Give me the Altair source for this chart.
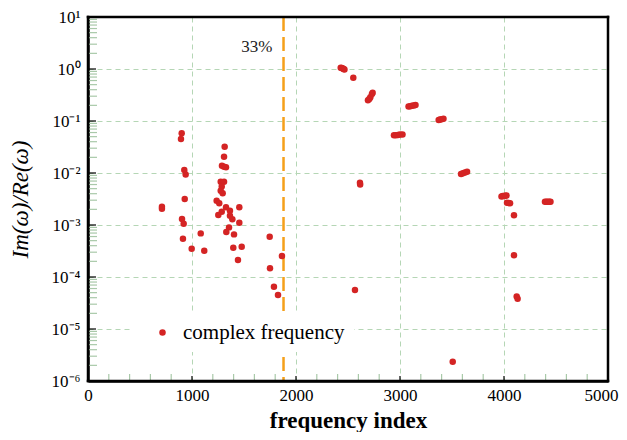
import altair as alt
import pandas as pd

# complex frequency points (frequency index, Im/Re)
freq_index = [
    711, 711, 901, 894, 926, 939, 930, 904, 920, 913, 997, 1084, 1118,
    1314, 1308, 1308, 1288, 1327, 1276, 1308, 1286, 1276, 1295, 1237, 1262,
    1327, 1455, 1286, 1253, 1365, 1365, 1388, 1455, 1356, 1330, 1404, 1397,
    1478, 1442,
    1747, 1865, 1750, 1788, 1827,
    2430, 2440, 2450, 2458, 2466,
    2551,
    2737, 2730, 2715, 2705, 2692,
    3082, 3098, 3115, 3132, 3149,
    3372, 3385, 3400, 3418,
    2942, 2960, 2980, 3000, 3024,
    3587, 3605, 3625, 3645,
    2615, 2617,
    3976, 3988, 4000, 4012, 4024,
    4029, 4045, 4058,
    4096,
    4394, 4408, 4422, 4435, 4447,
    4096, 4122, 4131,
    3507, 2567,
]
im_re = [
    2.25e-3, 2.05e-3, 0.058, 0.045, 0.0114, 0.0094, 3.16e-3, 1.30e-3, 1.06e-3, 5.45e-4, 3.5e-4, 6.9e-4, 3.2e-4,
    0.032, 0.0206, 0.0132, 0.0138, 0.0129, 6.8e-3, 6.8e-3, 5.5e-3, 4.57e-3, 4.07e-3, 2.93e-3, 2.61e-3,
    2.19e-3, 2.19e-3, 1.80e-3, 1.56e-3, 1.88e-3, 1.51e-3, 1.29e-3, 1.11e-3, 9.0e-4, 7.3e-4, 6.6e-4, 3.66e-4,
    3.83e-4, 2.12e-4,
    5.96e-4, 2.53e-4, 1.47e-4, 6.5e-5, 4.5e-5,
    1.06, 1.04, 1.02, 1.0, 0.98,
    0.68,
    0.35, 0.33, 0.285, 0.265, 0.25,
    0.19, 0.193, 0.196, 0.199, 0.203,
    0.105, 0.107, 0.108, 0.11,
    0.053, 0.053, 0.054, 0.055, 0.055,
    0.0096, 0.0099, 0.0102, 0.0106,
    6.5e-3, 6.0e-3,
    3.55e-3, 3.6e-3, 3.62e-3, 3.66e-3, 3.7e-3,
    2.68e-3, 2.65e-3, 2.62e-3,
    1.54e-3,
    2.79e-3, 2.79e-3, 2.79e-3, 2.79e-3, 2.79e-3,
    2.61e-4, 4.2e-5, 3.8e-5,
    2.35e-6, 5.6e-5,
]
series_name = "complex frequency"

x_major = [0, 1000, 2000, 3000, 4000, 5000]
x_minor = [v for v in range(200, 5000, 200) if v % 1000 != 0]
y_decades = [1e-6, 1e-5, 1e-4, 1e-3, 1e-2, 1e-1, 1, 10]
y_minor = [m * d for d in y_decades[:-1] for m in range(2, 10)]
threshold_x = [1880]
threshold_label = ["33%"]

FONT = "Liberation Serif"
GRID = "#b5d6b5"
RED = "#d42424"
ORANGE = "#f5a01a"

xscale = alt.Scale(domain=[0, 5000], nice=False, zero=False)
yscale = alt.Scale(type="log", domain=[1e-6, 10], nice=False)

pts = pd.DataFrame({"x": freq_index, "y": im_re, "series": [series_name] * len(freq_index)})

sup = "['\u207b\u2076','\u207b\u2075','\u207b\u2074','\u207b\u00b3','\u207b\u00b2','\u207b\u00b9','\u2070','\u00b9']"
ylabel_expr = "'10' + " + sup + "[round(log(datum.value)/LN10)+6]"

base_points = alt.Chart(pts).mark_circle(size=42, opacity=1).encode(
    x=alt.X("x:Q", scale=xscale, axis=alt.Axis(
        values=x_major, format="d", grid=True, gridDash=[5, 4], gridColor=GRID, gridWidth=1,
        zindex=0, ticks=False, domain=True, domainColor="black", domainWidth=2.5,
        labelFont=FONT, labelFontSize=17, labelColor="black",
        labelPadding=6, labelFlush=False, labelOverlap=False,
        labelAlign={"condition": {"test": "datum.value == 5000", "value": "right"}, "value": "center"},
        labelOffset={"condition": {"test": "datum.value == 5000", "value": 10}, "value": 0},
        title="frequency index", titleFont=FONT, titleFontSize=23, titleFontWeight="bold",
        titleColor="black", titleY=46, titleBaseline="alphabetic")),
    y=alt.Y("y:Q", scale=yscale, axis=alt.Axis(
        values=y_decades, grid=True, gridDash=[5, 4], gridColor=GRID, gridWidth=1,
        zindex=0, ticks=False, domain=True, domainColor="black", domainWidth=2.5,
        labelFont=FONT, labelFontSize=17, labelColor="black",
        labelPadding=8, labelFlush=False, labelOverlap=False, labelExpr=ylabel_expr,
        title="Im(\u03c9)/Re(\u03c9)", titleFont=FONT, titleFontSize=23, titleFontStyle="italic",
        titleFontWeight="normal", titleColor="black", titleX=-68, titleY=182,
        titleAlign="center", titleBaseline="middle", titleAngle=270)),
    color=alt.Color("series:N", scale=alt.Scale(range=[RED]), legend=alt.Legend(
        title=None, orient="none", legendX=42, legendY=297, padding=8,
        fillColor="white", strokeColor="white", symbolType="circle", symbolSize=42,
        symbolOffset=14, labelOffset=10, labelFont=FONT, labelFontSize=21, labelColor="black",
        labelLimit=400, symbolStrokeWidth=0)),
)

xmaj = pd.DataFrame({"x": x_major[1:-1]})
xmin = pd.DataFrame({"x": x_minor})
ymaj = pd.DataFrame({"y": y_decades[1:-1]})
ymin = pd.DataFrame({"y": y_minor})

xt_major = alt.Chart(xmaj).mark_rule(color="black", strokeWidth=1.2).encode(
    x=alt.X("x:Q", scale=xscale), y=alt.value(364), y2=alt.value(359))
xt_minor = alt.Chart(xmin).mark_rule(color="#a9c9a9", strokeWidth=1.2).encode(
    x=alt.X("x:Q", scale=xscale), y=alt.value(364), y2=alt.value(357))
yt_major = alt.Chart(ymaj).mark_rule(color="black", strokeWidth=1.2).encode(
    y=alt.Y("y:Q", scale=yscale), x=alt.value(0), x2=alt.value(8))
yt_minor = alt.Chart(ymin).mark_rule(color="#a9c9a9", strokeWidth=1.2).encode(
    y=alt.Y("y:Q", scale=yscale), x=alt.value(0), x2=alt.value(9))

vline = alt.Chart(pd.DataFrame({"x": threshold_x})).mark_rule(
    color=ORANGE, strokeWidth=2.5, strokeDash=[14, 6]).encode(
    x=alt.X("x:Q", scale=xscale), y=alt.value(0), y2=alt.value(364))
vtext = alt.Chart(pd.DataFrame({"x": threshold_x, "t": threshold_label})).mark_text(
    align="right", baseline="alphabetic", dx=-11, font=FONT, fontSize=17, color="#222222").encode(
    x=alt.X("x:Q", scale=xscale), y=alt.value(35), text="t:N")

one = pd.DataFrame({"f": [0]})
fkw = dict(color="black", opacity=1)
frame_l = alt.Chart(one).mark_rect(**fkw).encode(
    x=alt.value(-1.25), x2=alt.value(1.25), y=alt.value(-1.25), y2=alt.value(365.25))
frame_r = alt.Chart(one).mark_rect(**fkw).encode(
    x=alt.value(518.75), x2=alt.value(521.25), y=alt.value(-1.25), y2=alt.value(365.25))
frame_t = alt.Chart(one).mark_rect(**fkw).encode(
    x=alt.value(-1.25), x2=alt.value(521.25), y=alt.value(-1.25), y2=alt.value(1.25))
frame_b = alt.Chart(one).mark_rect(**fkw).encode(
    x=alt.value(-1.25), x2=alt.value(521.25), y=alt.value(362.75), y2=alt.value(365.25))

chart = alt.layer(
    xt_minor, xt_major, yt_minor, yt_major, vline, vtext, base_points,
    frame_l, frame_r, frame_t, frame_b
).properties(
    width=520, height=364,
    background="white",
    autosize=alt.AutoSizeParams(type="none"),
    padding={"left": 80, "top": 9, "right": 11, "bottom": 51},
).configure_view(strokeWidth=0)

chart.save("out.html", embed_options={"renderer": "svg", "actions": False})
